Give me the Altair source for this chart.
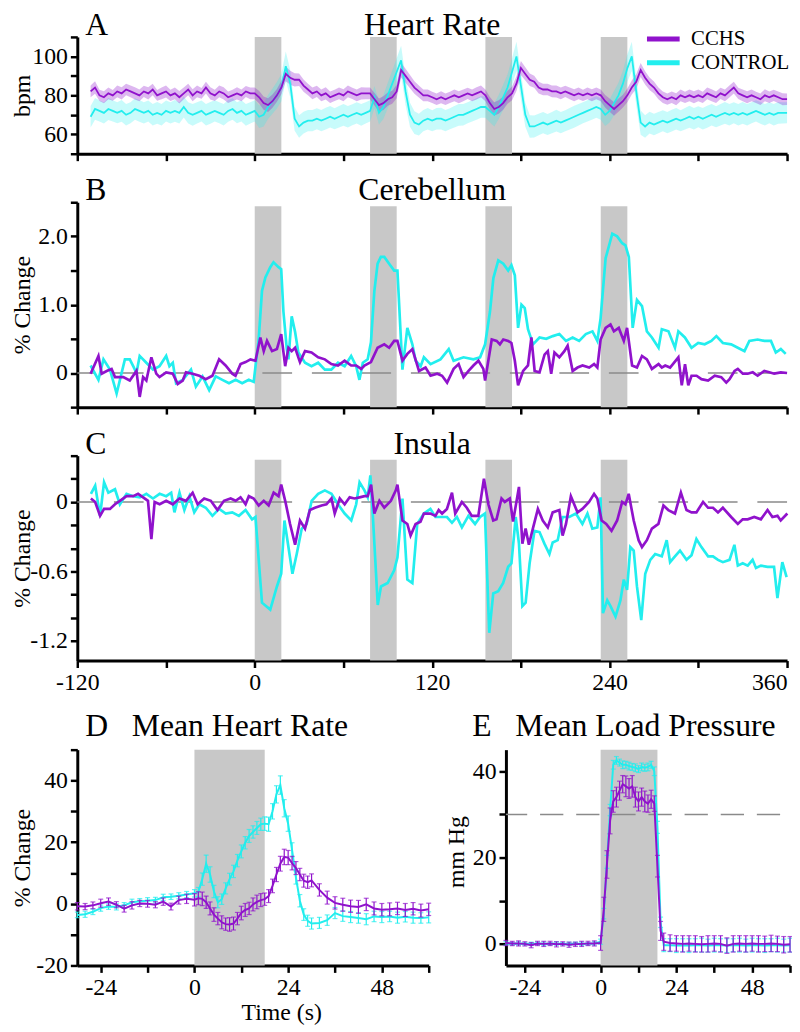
import altair as alt
import pandas as pd

FONT = "Liberation Serif"
PURPLE = "#9012CC"
CYAN = "#22EEEE"
GRAY = "#C8C8C8"
DASHC = "#8A8A8A"
GROUPS = ["CCHS", "CONTROL"]

# challenge windows (s)
WIN_START = [0, 78, 156, 234]
WIN_END = [18, 96, 174, 252]
PAIR_WIN = [0, 18]

# ---------------- Panel A: heart rate (bpm), 3 s samples ----------------
A_T = list(range(-111, 361, 3))
A_CCHS = [82,84,80,79,81,80,82,81,83,82,81,80,82,81,83,80,81,82,80,81,79,81,83,80,82,81,84,81,80,82,81,79,80,81,80,82,81,
          81,79,76,75,77,80,84,91,89,88,88,85,83,81,82,80,81,79,80,81,80,82,81,80,81,81,
          81,78,75,76,78,79,82,93,90,87,84,82,80,80,79,78,79,78,79,80,79,80,81,80,81,82,
          80,76,73,74,76,79,81,86,94,91,88,87,84,83,83,82,82,81,82,81,80,81,80,81,80,81,
          80,77,75,73,75,77,80,84,87,93,89,86,84,81,79,78,79,78,80,79,80,79,80,79,81,80,79,81,80,82,84,81,80,79,80,79,78,80,79,80,79,78,78]
A_CTRL = [69,73,72,71,73,72,71,72,70,71,73,72,71,72,70,71,70,72,71,72,71,74,71,70,71,72,70,71,72,71,70,72,73,71,72,70,71,
          72,69,70,74,77,80,84,95,86,68,64,66,67,67,68,67,68,69,68,69,70,69,70,71,70,71,
          72,79,71,74,80,86,92,98,82,70,66,65,67,68,67,68,68,67,68,69,70,70,71,72,73,74,
          74,72,70,74,79,84,92,100,85,70,64,64,65,66,65,66,67,66,67,68,69,70,71,72,73,74,
          73,70,72,76,80,86,94,100,82,66,64,66,65,66,67,66,67,68,67,68,69,68,69,68,69,70,69,70,71,70,71,70,71,70,71,72,71,70,71,70,71,71,71]
A_CCHS_SE = [3.0,3.2,2.9,3.1,3.0,2.8,3.0,3.1,2.9,3.0,3.2,3.0,2.9,3.1,3.0,2.8,3.0,3.1,2.9,3.0,3.2,3.0,2.9,3.1,3.0,2.8,3.0,3.1,2.9,3.0,3.2,3.0,2.9,3.1,3.0,2.8,3.0,
             3.0,3.2,3.4,3.5,3.4,3.3,3.5,3.8,3.6,3.4,3.2,3.1,3.0,3.0,2.9,3.0,3.1,3.0,2.9,3.0,3.1,3.0,2.9,3.0,3.1,3.0,
             3.0,3.2,3.4,3.5,3.4,3.3,3.5,3.8,3.6,3.4,3.2,3.1,3.0,3.0,2.9,3.0,3.1,3.0,2.9,3.0,3.1,3.0,2.9,3.0,3.1,3.0,
             3.0,3.2,3.4,3.5,3.4,3.3,3.5,3.8,3.6,3.4,3.2,3.1,3.0,3.0,2.9,3.0,3.1,3.0,2.9,3.0,3.1,3.0,2.9,3.0,3.1,3.0,
             3.0,3.2,3.4,3.5,3.4,3.3,3.5,3.6,3.8,3.6,3.4,3.2,3.1,3.0,3.0,2.9,3.0,3.1,3.0,2.9,3.0,3.1,3.0,2.9,3.0,3.1,3.0,2.9,3.0,3.1,3.0,2.9,3.0,3.1,3.0,2.9,3.0,3.1,3.0,2.9,3.0,3.1,3.0]
A_CTRL_SE = [5.5,5.6,5.4,5.5,5.7,5.5,5.4,5.6,5.5,5.4,5.5,5.6,5.5,5.4,5.5,5.6,5.5,5.4,5.5,5.6,5.5,5.4,5.5,5.6,5.5,5.4,5.5,5.6,5.5,5.4,5.5,5.6,5.5,5.4,5.5,5.6,5.5,
             5.5,5.8,6.0,6.2,6.5,6.8,7.0,7.5,7.0,6.2,5.8,5.6,5.5,5.5,5.4,5.5,5.6,5.5,5.4,5.5,5.6,5.5,5.4,5.5,5.6,5.5,
             5.5,5.8,6.0,6.2,6.5,6.8,7.0,7.5,7.0,6.2,5.8,5.6,5.5,5.5,5.4,5.5,5.6,5.5,5.4,5.5,5.6,5.5,5.4,5.5,5.6,5.5,
             5.5,5.8,6.0,6.2,6.5,6.8,7.0,7.5,7.0,6.2,5.8,5.6,5.5,5.5,5.4,5.5,5.6,5.5,5.4,5.5,5.6,5.5,5.4,5.5,5.6,5.5,
             5.5,5.8,6.0,6.2,6.5,6.8,7.0,7.5,7.0,6.2,5.8,5.6,5.5,5.5,5.4,5.5,5.6,5.5,5.4,5.5,5.6,5.5,5.4,5.5,5.6,5.5,5.4,5.5,5.6,5.5,5.4,5.5,5.6,5.5,5.4,5.5,5.6,5.5,5.4,5.5,5.6,5.5,5.4]

# ---------------- Panel B: cerebellum (% change), (t, value) ----------------
B_CTRL = [(-111,0.11),(-105.7,-0.1),(-102.3,0.2),(-97.9,0.05),(-93.4,-0.3),(-87.8,0.2),(-84.5,0.2),(-82.2,0.1),(-80,0.0),(-77.8,0.25),
          (-73.3,0.15),(-68.8,0.05),(-64.4,0.1),(-59.9,0.25),(-57.7,0.1),(-55.4,0.15),(-53.2,-0.15),(-48.7,-0.1),(-43.1,0.05),(-39.8,-0.2),
          (-35.3,-0.05),(-30.8,-0.25),(-26.4,-0.05),(-21.9,-0.1),(-17.4,-0.15),(-12.9,-0.1),(-8.5,-0.15),(-4,-0.1),(-0.7,-0.13),(2.7,0.5),
          (4.9,1.2),(7.2,1.4),(10.5,1.55),(12.7,1.62),(16.1,1.55),(17.9,1.52),(19.4,0.9),(21.7,0.35),(22.8,0.2),(25,0.83),(27.3,0.6),(29.5,0.3),
          (34,0.15),(38.4,0.1),(42.9,0.15),(47.4,0.05),(51.8,0.05),(56.3,0.15),(60.8,0.1),(65.2,0.25),(68.6,0.1),(70.8,-0.1),(73.1,0.15),
          (76.4,0.2),(78.6,0.45),(80.9,1.2),(83.1,1.6),(85.3,1.7),(87.6,1.7),(90.9,1.6),(94.3,1.5),(96.5,1.5),(99.9,0.05),(103.2,0.66),
          (106.6,0.42),(108.8,0.18),(112.2,0.1),(114.4,0.23),(118.9,0.13),(125.6,0.2),(131.2,0.35),(134.5,0.18),(141.2,0.23),(147.9,0.2),
          (152.4,0.23),(155.8,0.42),(159.1,0.9),(161.4,1.39),(164.7,1.65),(168.1,1.6),(171.4,1.5),(173.6,1.58),(175.9,1.43),(178.1,0.66),
          (180.4,1.0),(182.6,0.95),(184.8,0.64),(188.2,0.42),(192.6,0.52),(197.1,0.5),(201.6,0.54),(206,0.57),(210.5,0.47),(215,0.52),
          (219.4,0.47),(223.9,0.57),(228.4,0.61),(231.7,0.47),(233.9,0.8),(237.3,1.68),(241.8,2.04),(245.1,2.0),(248.5,1.9),(250.7,1.87),
          (253,1.7),(255.6,0.66),(258.5,1.07),(261.9,0.98),(265.2,0.61),(268.6,0.52),(273.1,0.37),(275.3,0.64),(279.8,0.61),(284.2,0.37),
          (286.5,0.61),(290.9,0.52),(295.4,0.37),(299.9,0.44),(304.3,0.42),(308.8,0.47),(312.2,0.54),(316.6,0.44),(322.2,0.42),(326.7,0.37),
          (331.2,0.32),(334.5,0.47),(340.1,0.49),(344.6,0.47),(349.1,0.47),(352.4,0.3),(355.8,0.35),(359.1,0.28)]
B_CCHS = [(-111,-0.01),(-105.7,0.25),(-103.5,-0.01),(-100.1,0.03),(-96.8,0.06),(-94.5,-0.06),(-88.9,-0.06),(-84.5,-0.11),(-80,0.03),
          (-77.8,-0.35),(-75.5,-0.06),(-73.3,-0.11),(-69.9,0.23),(-66.6,-0.01),(-64.4,-0.06),(-59.9,0.01),(-55.4,-0.01),(-52.1,-0.16),
          (-48.7,-0.11),(-46.5,0.01),(-42,-0.01),(-37.5,-0.04),(-33.1,-0.09),(-28.6,-0.04),(-24.1,0.2),(-19.7,0.11),(-15.2,-0.01),(-13,-0.04),
          (-9.6,0.13),(-6.2,0.16),(-2.9,0.2),(0.5,0.18),(3.8,0.52),(6.1,0.32),(8.3,0.47),(11.7,0.32),(15,0.35),(17.9,0.57),(20.6,0.1),
          (22.8,0.37),(25,0.32),(27.3,0.37),(30.6,0.16),(34,0.32),(38.4,0.3),(42.9,0.23),(47.4,0.2),(51.8,0.13),(56.3,0.11),(60.8,0.18),
          (65.2,0.11),(68.6,0.11),(72,0.06),(74.2,0.11),(78.6,0.16),(83.1,0.37),(87.6,0.42),(90.9,0.37),(94.3,0.47),(96.5,0.47),(99.9,0.18),
          (103.2,0.28),(106.6,0.35),(111.1,0.03),(115.5,0.08),(118.9,-0.04),(123.4,-0.01),(126.7,-0.04),(130.1,-0.14),(134.5,0.06),
          (137.9,0.13),(141.2,-0.06),(144.6,0.03),(147.9,0.11),(151.3,0.18),(154.6,0.06),(155.8,-0.11),(160.3,0.49),(163.6,0.47),(165.8,0.42),
          (168.1,0.49),(171.4,0.47),(173.6,0.44),(175.9,0.18),(178.1,-0.18),(181.5,0.03),(184.8,0.11),(187.1,0.52),(189.3,0.03),(192.6,0.01),
          (196,0.27),(198.2,0.32),(200.5,-0.01),(202.7,0.3),(206,0.23),(209.4,0.32),(211.6,0.4),(215,0.03),(218.3,0.08),(221.7,0.11),
          (226.2,0.08),(229.5,0.13),(231.7,0.08),(233.9,0.49),(237.3,0.66),(240.6,0.71),(242.9,0.61),(246.2,0.66),(249.6,0.47),(251.8,0.66),
          (255.2,0.11),(258.5,0.08),(261.9,0.25),(265.2,0.2),(268.6,0.06),(273.1,0.13),(275.3,0.08),(277.6,0.11),(280.9,0.08),(286.5,0.23),
          (288.8,-0.18),(291,0.13),(293.2,-0.18),(295.4,-0.04),(298.8,-0.04),(302.1,-0.09),(306.6,-0.11),(311.1,-0.04),(315.5,-0.06),
          (318.9,-0.14),(321.1,-0.09),(324.5,0.03),(326.7,0.06),(330.1,-0.01),(333.4,-0.01),(336.8,0.01),(340.1,-0.04),(344.6,0.03),
          (348,0.01),(351.3,-0.01),(355.8,0.01),(360,0.0)]

# ---------------- Panel C: insula (% change), (t, value) ----------------
C_CTRL = [(-110.8,0.07),(-107.9,0.14),(-104.6,-0.12),(-101.9,0.17),(-99,0.08),(-94.5,0.11),(-91.2,-0.02),(-86.7,0.07),(-82.2,0.05),
          (-77.7,0.04),(-73.3,0.07),(-68.8,0.03),(-64.3,0.07),(-59.9,0.05),(-56.5,0.08),(-54.3,-0.09),(-50.9,0.08),(-47.6,-0.07),(-44.2,0.05),
          (-40.9,-0.09),(-37.5,-0.02),(-33.1,-0.05),(-28.6,-0.12),(-24.1,-0.06),(-19.6,-0.1),(-15.2,-0.09),(-10.7,-0.12),(-6.2,-0.07),
          (-1.8,-0.15),(0.5,-0.13),(4.9,-0.87),(10.5,-0.93),(15,-0.73),(17.9,-0.62),(20.1,-0.16),(25.5,-0.62),(28.4,-0.45),(31.8,-0.23),
          (35.1,-0.19),(38.5,0.01),(42.9,0.07),(47.4,0.1),(51.9,0.07),(56.3,-0.02),(60.8,-0.1),(65.3,-0.16),(68.6,-0.02),(70.9,0.17),
          (74.2,0.1),(76.4,0.04),(78.2,0.23),(79.8,-0.1),(83.2,-0.89),(85.4,-0.73),(89.9,-0.7),(94.3,-0.59),(96.5,-0.48),(99.9,0.03),
          (103.2,-0.67),(106.6,-0.7),(109.9,-0.19),(114.4,-0.1),(118.8,-0.06),(122.2,-0.13),(125.6,-0.13),(130,-0.13),(133.4,-0.18),
          (136.7,-0.13),(140.1,-0.22),(144.5,-0.12),(149,-0.19),(152.4,-0.13),(155.7,-0.1),(158.6,-1.13),(161.3,-0.79),(164.7,-0.77),
          (168,-0.7),(171.4,-0.56),(173.6,-0.53),(176.5,-0.13),(178.7,-0.36),(181,-0.9),(183.2,-0.87),(185.9,-0.53),(189.2,-0.25),
          (192.6,-0.26),(195.9,-0.36),(199.3,-0.45),(201.5,-0.35),(204.9,-0.33),(208.2,-0.13),(212.7,-0.13),(217.2,-0.1),(221.6,-0.19),
          (225,-0.1),(228.3,-0.23),(231.7,-0.22),(233.9,0.04),(235.5,-0.96),(238.4,-0.85),(240.6,-0.9),(244,-0.99),(247.3,-0.85),
          (249.6,-0.67),(251.8,-0.76),(254,-0.39),(256.3,-0.42),(258.5,-0.73),(261.4,-1.02),(264.1,-0.62),(267.5,-0.5),(270.8,-0.45),
          (275.3,-0.47),(278.6,-0.33),(280.9,-0.52),(284.2,-0.47),(287.6,-0.42),(292,-0.5),(295.4,-0.46),(298.7,-0.32),(302.1,-0.39),
          (306.6,-0.47),(309.9,-0.47),(313.3,-0.5),(316.6,-0.52),(321.1,-0.5),(324.4,-0.37),(326.7,-0.55),(330,-0.53),(333.4,-0.55),
          (336.7,-0.5),(339,-0.57),(342.3,-0.55),(346.8,-0.56),(351.2,-0.56),(353.5,-0.83),(356.8,-0.52),(359.7,-0.65)]
C_CCHS = [(-110.8,0.03),(-107.9,0.0),(-104.6,-0.12),(-101.9,-0.06),(-97.9,-0.06),(-94.5,-0.02),(-91.2,0.01),(-86.7,0.05),(-82.2,0.05),
          (-78.9,0.07),(-75.5,0.04),(-72.2,0.01),(-69.9,-0.32),(-67.7,0.0),(-64.3,-0.02),(-59.9,0.01),(-55.4,-0.02),(-50.9,0.03),
          (-46.5,0.01),(-42,0.08),(-38.6,-0.02),(-34.2,0.03),(-29.7,0.01),(-25.2,-0.07),(-20.8,0.01),(-16.3,0.03),(-12.9,0.01),(-9.6,0.04),
          (-6.2,-0.02),(-4,0.05),(-0.7,0.03),(2.7,-0.03),(6.1,0.01),(9.4,-0.03),(12.8,0.08),(16.1,0.05),(17.9,0.15),(20.6,0.01),
          (23.9,-0.19),(27.3,-0.37),(30.6,-0.16),(34,-0.23),(37.3,-0.07),(40.7,-0.05),(45.2,-0.03),(48.5,-0.02),(51.9,0.03),(54.1,-0.1),
          (57.5,0.03),(60.8,-0.02),(64.2,0.04),(67.5,0.03),(70.9,0.04),(74.2,0.05),(76.4,0.05),(78.7,0.15),(80.9,-0.1),(84.3,0.01),
          (87.6,-0.05),(92.1,0.01),(95.4,0.1),(96.5,0.15),(99.9,-0.16),(103.2,-0.19),(105.4,-0.29),(108.8,-0.19),(112.1,-0.17),
          (114.4,-0.1),(118.8,-0.1),(122.2,-0.12),(124.4,-0.07),(126.7,-0.1),(130,-0.06),(133.4,0.08),(135.6,-0.1),(140.1,0.0),
          (143.4,-0.05),(146.8,-0.12),(151.2,-0.12),(155,0.2),(158,-0.02),(161.3,-0.16),(163.5,-0.15),(166.9,0.03),(169.1,0.0),
          (172.5,0.03),(174.7,-0.17),(178.7,0.13),(181,-0.36),(183.2,-0.23),(185.4,-0.37),(188.1,-0.23),(191.5,-0.06),(194.8,-0.16),
          (198.2,-0.22),(201.5,-0.09),(206,-0.07),(208.2,-0.29),(210.5,-0.19),(213.8,0.05),(218.3,-0.09),(221.6,-0.06),(226.1,0.0),
          (229.5,0.07),(231.7,0.03),(234.6,-0.16),(237.7,-0.19),(241.3,-0.25),(245.1,-0.16),(248.5,0.0),(250.7,-0.02),(252.9,0.07),
          (256.3,-0.16),(259.6,-0.33),(261.9,-0.39),(265.2,-0.33),(268.6,-0.23),(273,-0.19),(276.4,-0.03),(279.7,-0.07),(284.2,-0.1),
          (288.2,0.08),(292,-0.07),(295.4,-0.09),(298.7,-0.09),(303.2,0.0),(306.6,-0.05),(309.9,-0.05),(313.3,-0.09),(316.6,-0.05),
          (322.2,-0.13),(326.7,-0.19),(330,-0.15),(333.4,-0.15),(337.8,-0.13),(342.3,-0.15),(346.8,-0.07),(350.1,-0.13),(353.5,-0.12),
          (355.7,-0.16),(360.2,-0.1)]

# ---------------- Panel D: mean heart rate (% change) ----------------
D_T = list(range(-30, 0, 2)) + list(range(0, 31)) + list(range(32, 61, 2))
D_CCHS = [-0.8,-0.9,-0.5,0.2,0.7,-0.3,-1.6,-0.5,0.1,0.0,-0.3,0.7,-0.9,1.2,1.6,
          1.3,1.8,1.6,0.5,-1.5,-3.5,-4.8,-6.0,-6.6,-6.7,-6.4,-4.8,-3.0,-2.0,-1.5,-0.2,0.6,1.2,1.5,2.5,
          5.8,9.5,13.0,15.2,15.0,13.2,11.6,9.5,7.5,7.0,7.6,
          4.5,2.0,0.3,-0.3,-0.8,-1.0,-0.2,-1.5,-1.9,-1.8,-1.5,-2.0,-1.6,-2.2,-1.8]
D_CCHS_SE = [1.2,1.0,1.1,1.3,1.2,1.0,1.1,1.2,1.0,1.1,1.0,1.2,1.1,1.3,1.5,
             2.0,2.1,2.2,2.0,2.1,2.2,2.0,2.1,2.0,2.2,2.1,2.0,2.2,2.1,2.0,2.1,2.2,2.1,2.0,2.1,
             2.2,2.3,2.4,2.5,2.3,2.2,2.1,2.0,2.1,2.0,2.1,
             2.0,2.1,2.0,2.1,2.0,2.1,2.0,2.1,2.0,2.1,2.0,2.1,2.0,2.1,2.0]
D_CTRL = [-3.6,-3.4,-2.6,-1.4,-0.9,-1.0,-0.5,0.5,0.8,1.0,1.2,2.1,2.3,2.6,3.0,
          3.4,3.8,8.0,13.0,9.5,4.0,0.5,1.5,5.0,8.0,10.5,14.0,17.0,19.8,22.0,23.3,24.6,25.8,26.0,25.8,
          30.0,35.5,38.5,31.0,26.0,17.5,8.5,1.0,-3.5,-5.5,-6.4,
          -6.2,-5.3,-3.0,-4.0,-4.3,-4.6,-5.0,-4.1,-4.3,-4.1,-4.5,-4.2,-4.5,-4.6,-4.4]
D_CTRL_SE = [0.9,1.0,0.9,1.0,0.9,1.0,0.9,1.0,0.9,1.0,0.9,1.0,0.9,1.0,1.0,
             1.2,1.5,2.0,2.8,2.5,2.0,1.8,1.7,1.8,1.9,2.0,2.0,2.1,2.0,2.1,2.0,2.1,2.0,2.2,2.3,
             2.5,2.8,3.0,2.8,2.5,2.3,2.1,2.0,1.9,1.8,1.8,
             1.8,1.7,1.8,1.7,1.8,1.7,1.8,1.7,1.8,1.7,1.8,1.7,1.8,1.7,1.8]

# ---------------- Panel E: mean load pressure (mm Hg) ----------------
E_T = list(range(-30, 0, 2)) + list(range(0, 21)) + list(range(22, 61, 2))
E_CCHS = [0.2,0.1,0.1,0.0,-0.3,0.1,0.0,0.1,-0.1,0.0,-0.2,-0.1,0.0,0.1,0.1,
          0.2,8.0,18.4,28.5,33.0,34.0,35.5,37.0,36.5,36.0,36.5,34.0,33.0,34.0,33.0,32.5,33.5,32.5,18.0,3.0,0.5,
          0.2,0.1,0.0,0.1,0.0,-0.1,0.0,0.1,0.0,-0.4,0.0,0.1,0.0,0.1,0.0,0.0,0.1,0.0,-0.2,-0.1]
E_CCHS_SE = [0.6,0.5,0.6,0.5,0.6,0.5,0.6,0.5,0.6,0.5,0.6,0.5,0.6,0.5,0.6,
             1.7,2.8,3.2,3.0,2.5,2.3,2.2,2.0,2.4,2.3,2.5,2.3,2.2,2.1,2.4,2.0,2.1,1.8,2.5,2.2,2.0,
             1.9,1.8,1.9,1.8,1.9,1.8,1.9,1.8,1.9,1.8,1.9,1.8,1.9,1.8,1.9,1.8,1.9,1.8,1.9,1.8]
E_CTRL = [0.1,0.0,0.1,0.0,0.0,0.1,0.0,0.0,0.1,0.0,0.0,0.1,0.0,0.0,0.1,
          0.5,7.0,19.0,31.0,41.5,42.5,42.0,41.5,41.5,41.2,41.0,40.8,40.5,41.0,40.8,41.0,41.5,40.0,27.0,5.0,-0.3,
          -0.3,-0.4,-0.3,-0.4,-0.3,-0.3,-0.4,-0.3,-0.3,-0.4,-0.3,-0.3,-0.4,-0.3,-0.3,-0.4,-0.3,-0.3,-0.4,-0.3]
E_CTRL_SE = [0.4,0.3,0.4,0.3,0.4,0.3,0.4,0.3,0.4,0.3,0.4,0.3,0.4,0.3,0.4,
             0.6,1.2,1.5,1.3,1.0,0.9,0.8,0.9,0.8,0.9,0.8,0.9,0.8,0.9,0.8,0.9,0.8,1.0,1.4,1.2,1.5,
             1.5,1.6,1.5,1.6,1.5,1.6,1.5,1.6,1.5,1.6,1.5,1.6,1.5,1.6,1.5,1.6,1.5,1.6,1.5,1.6]

for arr in (A_CCHS, A_CTRL, A_CCHS_SE, A_CTRL_SE):
    assert len(arr) == len(A_T), len(arr)
for arr in (D_CCHS, D_CCHS_SE, D_CTRL, D_CTRL_SE):
    assert len(arr) == len(D_T), len(arr)
for arr in (E_CCHS, E_CCHS_SE, E_CTRL, E_CTRL_SE):
    assert len(arr) == len(E_T), len(arr)

# ---------------- layout constants ----------------
W_LONG = 717
H_A, H_B, H_C = 118, 207, 207
W_D, W_E = 355, 287
H_DE, TOP_GAP = 259, 41
TITLE_FS = 32
NB = "\u00a0"

AX_COMMON = dict(labelFont=FONT, titleFont=FONT, labelFontSize=24, titleFontSize=24, labelColor="black",
                 titleColor="black", titleFontWeight="normal", domainColor="black", domainWidth=3,
                 tickColor="black", tickWidth=2.5, tickSize=7, labelPadding=3, labelOverlap=False,
                 labelFlush=False, labelBound=False, grid=False)


def title_text(txt, x, y, align="left"):
    return alt.Chart(pd.DataFrame({"lab": [txt]})).mark_text(
        align=align, baseline="alphabetic", font=FONT, fontSize=TITLE_FS, color="black"
    ).encode(x=alt.value(x), y=alt.value(y), text="lab:N")


XL_SCALE = alt.Scale(domain=[-120, 360], nice=False, zero=False)


def x_long(field, show_labels):
    ax = alt.Axis(values=list(range(-120, 361, 60)), title=None, labels=show_labels,
                  labelExpr="datum.value % 120 === 0 ? '' + datum.value : ''",
                  labelAlign={"condition": {"test": "datum.value === 360", "value": "right"}, "value": "center"},
                  **AX_COMMON)
    return alt.X(field, type="quantitative", scale=XL_SCALE, axis=ax)


def y_axis(values, expr, title, title_y, title_x=-48):
    return alt.Axis(values=values, labelExpr=expr, title=title, titleX=title_x, titleY=title_y,
                    titleAlign="center", titleBaseline="alphabetic", titleAngle=270, **AX_COMMON)


win_df = pd.DataFrame({"start": WIN_START, "end": WIN_END})

# ---------------- Panel A ----------------
a_df = pd.DataFrame({
    "t": A_T * 2,
    "group": ["CCHS"] * len(A_T) + ["CONTROL"] * len(A_T),
    "v": A_CCHS + A_CTRL,
    "se": A_CCHS_SE + A_CTRL_SE,
})
a_df["lo"] = a_df["v"] - a_df["se"]
a_df["hi"] = a_df["v"] + a_df["se"]
ysA = alt.Scale(domain=[50, 110], nice=False, zero=False)
axA = y_axis([50, 60, 70, 80, 90, 100, 110], "indexof([60,80,100], datum.value) >= 0 ? '' + datum.value : ''", "bpm", H_A / 2)
color_scale = alt.Scale(domain=GROUPS, range=[PURPLE, CYAN])
legend = alt.Legend(title=None, orient="none", legendX=573, legendY=-10, symbolType="stroke", symbolSize=1089,
                    symbolStrokeWidth=5, labelFont=FONT, labelFontSize=21, labelColor="black", labelOffset=9,
                    clipHeight=24, rowPadding=0, padding=0)

a_layers = [alt.Chart(win_df).mark_rect(color=GRAY).encode(x=x_long("start", False), x2="end:Q")]
for g, c, op in (("CONTROL", CYAN, 0.25), ("CCHS", PURPLE, 0.3)):
    a_layers.append(alt.Chart(a_df[a_df.group == g]).mark_area(color=c, opacity=op).encode(
        x=x_long("t", False), y=alt.Y("lo:Q", scale=ysA, axis=axA), y2="hi:Q"))
for g in ("CONTROL", "CCHS"):
    a_layers.append(alt.Chart(a_df[a_df.group == g]).mark_line(strokeWidth=1.8).encode(
        x=x_long("t", False), y=alt.Y("v:Q", scale=ysA, axis=axA),
        color=alt.Color("group:N", scale=color_scale, legend=legend)))
a_layers += [title_text("A", 8, -2), title_text("Heart Rate", W_LONG / 2, -2, "center")]
chartA = alt.layer(*a_layers).properties(width=W_LONG, height=H_A)


# ---------------- Panels B and C ----------------
def long_panel(ctrl, cchs, ydom, gray_top, ticks, expr, lab, title, height, show_x_labels):
    ys = alt.Scale(domain=ydom, nice=False, zero=False)
    ax = y_axis(ticks, expr, "% Change", height / 2)
    w = win_df.assign(lo=ydom[0], hi=gray_top)
    layers = [
        alt.Chart(w).mark_rect(color=GRAY).encode(
            x=x_long("start", show_x_labels), x2="end:Q", y=alt.Y("lo:Q", scale=ys, axis=ax), y2="hi:Q"),
        alt.Chart(pd.DataFrame({"v": [0]})).mark_rule(color=DASHC, strokeWidth=1.5, strokeDash=[30, 20]).encode(
            y=alt.Y("v:Q", scale=ys, axis=ax)),
    ]
    for pts, c in ((ctrl, CYAN), (cchs, PURPLE)):
        df = pd.DataFrame(pts, columns=["t", "v"])
        layers.append(alt.Chart(df).mark_line(color=c, strokeWidth=2.7).encode(
            x=x_long("t", show_x_labels), y=alt.Y("v:Q", scale=ys, axis=ax)))
    layers += [title_text(lab, 8, -2), title_text(title, W_LONG / 2, -2, "center")]
    return alt.layer(*layers).properties(width=W_LONG, height=height)


chartB = long_panel(B_CTRL, B_CCHS, [-0.5, 2.5], 2.44, [-0.5, 0, 0.5, 1, 1.5, 2, 2.5],
                    "datum.value === 0 ? '0' : (datum.value === 1 || datum.value === 2) ? format(datum.value, '.1f') : ''",
                    "B", "Cerebellum", H_B, False)
chartC = long_panel(C_CTRL, C_CCHS, [-1.37, 0.4], 0.365, [0.4, 0.2, 0, -0.2, -0.4, -0.6, -0.8, -1.0, -1.2],
                    "datum.value === 0 ? '0' : datum.value === -0.6 ? '-0.6' : datum.value === -1.2 ? '-1.2' : ''",
                    "C", "Insula", H_C, True)


# ---------------- Panels D and E ----------------
def pair_panel(t, cchs, cchs_se, ctrl, ctrl_se, ydom, yaxis, xaxis, width, title, title_dx, ref_line=None):
    xs = alt.Scale(domain=[-30, 60], nice=False, zero=False)
    ys = alt.Scale(domain=ydom, range=[H_DE, TOP_GAP], nice=False, zero=False)

    def X(f):
        return alt.X(f, type="quantitative", scale=xs, axis=xaxis)

    def Y(f):
        return alt.Y(f, type="quantitative", scale=ys, axis=yaxis)

    w = pd.DataFrame({"start": [PAIR_WIN[0]], "end": [PAIR_WIN[1]], "lo": [ydom[0]], "hi": [ydom[1]]})
    layers = [alt.Chart(w).mark_rect(color=GRAY).encode(x=X("start"), x2="end:Q", y=Y("lo"), y2="hi:Q")]
    if ref_line is not None:
        layers.append(alt.Chart(pd.DataFrame({"v": [ref_line]})).mark_rule(
            color=DASHC, strokeWidth=1.5, strokeDash=[23.5, 13], strokeDashOffset=26.5).encode(y=Y("v")))
    for vals, se, c in ((ctrl, ctrl_se, CYAN), (cchs, cchs_se, PURPLE)):
        df = pd.DataFrame({"t": t, "v": vals, "se": se})
        df["lo"] = df["v"] - df["se"]
        df["hi"] = df["v"] + df["se"]
        layers.append(alt.Chart(df).mark_line(color=c, strokeWidth=2).encode(x=X("t"), y=Y("v")))
        layers.append(alt.Chart(df).mark_rule(color=c, strokeWidth=1.2).encode(x=X("t"), y=Y("lo"), y2="hi:Q"))
        for f in ("lo", "hi"):
            layers.append(alt.Chart(df).mark_tick(color=c, orient="horizontal", size=5, thickness=1.2).encode(
                x=X("t"), y=Y(f)))
    layers.append(title_text(title, title_dx, 27))
    return alt.layer(*layers).properties(width=width, height=H_DE)


x_pair_ticks = [-24, -12, 0, 12, 24, 36, 48, 60]
x_pair_expr = "datum.value % 24 === 0 ? '' + datum.value : ''"
axDx = alt.Axis(values=x_pair_ticks, labelExpr=x_pair_expr, title="Time (s)", titleX=206, titleY=55,
                titleBaseline="alphabetic", titleAlign="center", **AX_COMMON)
axEx = alt.Axis(values=x_pair_ticks, labelExpr=x_pair_expr, title=None, **AX_COMMON)
axDy = y_axis([-20, -10, 0, 10, 20, 30, 40, 50], "datum.value % 20 === 0 ? '' + datum.value : ''", "% Change", 150)
axEy = y_axis([0, 10, 20, 30, 40], "datum.value % 20 === 0 ? '' + datum.value : ''", "mm Hg", 144, title_x=-43)

chartD = pair_panel(D_T, D_CCHS, D_CCHS_SE, D_CTRL, D_CTRL_SE, [-20, 50], axDy, axDx, W_D,
                    "D" + NB * 3 + "Mean Heart Rate", 8)
chartE = pair_panel(E_T, E_CCHS, E_CCHS_SE, E_CTRL, E_CTRL_SE, [-5, 45], axEy, axEx, W_E,
                    "E" + NB * 3 + "Mean Load Pressure", -34, ref_line=30)

row = alt.hconcat(chartD, chartE, spacing=78, bounds="flush")
chart = alt.vconcat(chartA, chartB, chartC, row, spacing=49, bounds="flush").properties(
    padding={"left": 70, "top": 24, "right": 722, "bottom": 1000},
    autosize=alt.AutoSizeParams(type="none"),
).configure_view(stroke=None).configure_axis(
    labelFont=FONT, titleFont=FONT, grid=False,
)

chart.save("out.html", embed_options={"renderer": "svg", "actions": False})
